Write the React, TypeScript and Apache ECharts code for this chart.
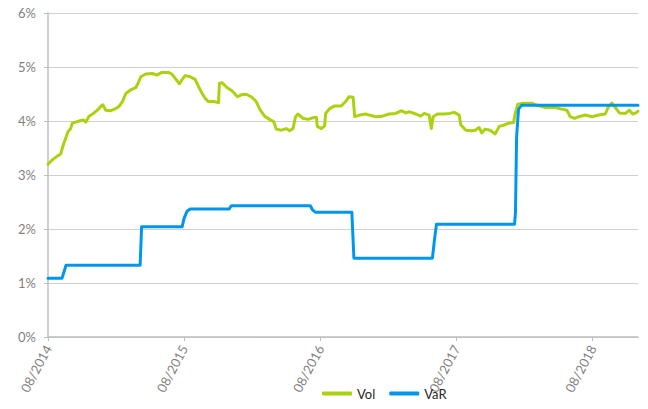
import React, { useEffect, useRef } from "react";
import * as echarts from "echarts";

// x values: months elapsed since 08/2014
const xTickLabels = ["08/2014", "08/2015", "08/2016", "08/2017", "08/2018"];

const volMonths = [
  0.0, 0.38, 0.82, 1.12, 1.35, 1.56, 1.76, 2.0, 2.14, 2.44, 2.89, 3.11, 3.33, 3.62, 4.06, 4.35, 4.65, 4.83,
  5.09, 5.53, 5.97, 6.26, 6.56, 6.86, 7.24, 7.53, 7.74, 7.94, 8.18, 8.62, 9.2, 9.59, 10.03, 10.61, 10.91,
  11.21, 11.59, 11.8, 12.09, 12.53, 12.97, 13.26, 13.56, 13.85, 14.14, 14.59, 15.03, 15.11, 15.33, 15.77,
  16.21, 16.7, 17.09, 17.53, 17.97, 18.35, 18.71, 19.09, 19.53, 19.88, 20.12, 20.56, 21.0, 21.29, 21.59,
  21.82, 22.03, 22.47, 22.92, 23.36, 23.65, 23.74, 24.09, 24.38, 24.47, 24.82, 25.26, 25.85, 26.23, 26.53,
  26.89, 27.03, 27.47, 28.0, 28.3, 28.88, 29.47, 30.06, 30.64, 31.17, 31.53, 31.88, 32.41, 32.85, 33.15,
  33.59, 33.79, 33.94, 34.32, 34.91, 35.36, 35.8, 36.24, 36.38, 36.82, 37.35, 37.65, 38.0, 38.23, 38.53,
  38.97, 39.41, 39.77, 40.15, 40.59, 41.03, 41.18, 41.41, 41.91, 42.65, 42.94, 43.83, 44.71, 45.29, 45.73,
  46.03, 46.41, 46.76, 47.36, 47.94, 48.53, 49.12, 49.41, 49.7, 50.0, 50.36, 50.89, 51.24, 51.53, 51.82, 52.0,
];
const volValues = [
  3.2, 3.28, 3.35, 3.39, 3.56, 3.68, 3.8, 3.86, 3.96, 3.98, 4.01, 4.02, 3.98, 4.09, 4.15, 4.2, 4.27, 4.3,
  4.2, 4.19, 4.23, 4.27, 4.36, 4.51, 4.57, 4.6, 4.62, 4.7, 4.82, 4.87, 4.88, 4.85, 4.9, 4.9, 4.87,
  4.79, 4.69, 4.76, 4.84, 4.82, 4.77, 4.64, 4.52, 4.42, 4.36, 4.36, 4.34, 4.7, 4.71, 4.62,
  4.56, 4.45, 4.49, 4.49, 4.44, 4.36, 4.2, 4.09, 4.03, 3.99, 3.85, 3.83, 3.86, 3.82, 3.86,
  4.08, 4.13, 4.05, 4.03, 4.06, 4.07, 3.9, 3.86, 3.91, 4.14, 4.23, 4.28, 4.28, 4.36, 4.45,
  4.44, 4.08, 4.11, 4.13, 4.11, 4.08, 4.09, 4.13, 4.14, 4.19, 4.15, 4.17, 4.13, 4.09, 4.14,
  4.11, 3.86, 4.08, 4.13, 4.13, 4.14, 4.16, 4.11, 3.93, 3.83, 3.82, 3.83, 3.88, 3.78, 3.85,
  3.83, 3.76, 3.9, 3.92, 3.96, 3.97, 4.14, 4.31, 4.33, 4.33, 4.3, 4.25, 4.25, 4.22, 4.2,
  4.08, 4.05, 4.08, 4.11, 4.08, 4.11, 4.13, 4.27, 4.33, 4.25, 4.15, 4.14, 4.2, 4.13, 4.15, 4.18,
];

const varMonths = [
  0.0, 1.24, 1.4, 1.59, 8.12, 8.25, 11.82, 12.0, 12.26, 12.53, 15.97, 16.15, 23.12, 23.3, 23.56, 26.78,
  26.96, 33.88, 34.06, 34.24, 41.12, 41.2, 41.3, 41.47, 41.74, 52.0,
];
const varValues = [
  1.09, 1.09, 1.2, 1.33, 1.33, 2.04, 2.04, 2.2, 2.33, 2.37, 2.37, 2.43, 2.43, 2.36, 2.31, 2.31,
  1.46, 1.46, 1.8, 2.09, 2.09, 2.3, 3.7, 4.22, 4.29, 4.29,
];

const GREEN = "#abd20f";
const BLUE = "#0096ef";
const FONT = "Lato, 'Liberation Sans', sans-serif";

export default function App() {
  const ref = useRef<HTMLDivElement>(null);
  useEffect(() => {
    if (!ref.current) return;
    const chart = echarts.init(ref.current, undefined, { renderer: "svg" });
    const vol = volMonths.map((m, i) => [m, volValues[i]]);
    const vr = varMonths.map((m, i) => [m, varValues[i]]);
    chart.setOption({
      animation: false,
      textStyle: { fontFamily: FONT },
      grid: { left: 48, right: 10, top: 13, bottom: 72, containLabel: false },
      legend: {
        left: 322,
        top: 387,
        padding: 0,
        itemWidth: 30,
        itemHeight: 4,
        itemGap: 14,
        icon: "roundRect",
        textStyle: { fontFamily: FONT, fontSize: 13, color: "#262626" },
        data: ["Vol", "VaR"],
      },
      xAxis: {
        type: "value",
        min: 0,
        max: 52,
        interval: 12,
        splitLine: { show: false },
        axisLine: { lineStyle: { color: "#bfbfbf", width: 1.5 } },
        axisTick: { show: true, length: 4, lineStyle: { color: "#bfbfbf" }, customValues: [0, 12, 24, 36, 48] },
        axisLabel: {
          rotate: 62,
          margin: 9,
          color: "#7f7f7f",
          fontSize: 13,
          fontFamily: FONT,
          customValues: [0, 12, 24, 36, 48],
          formatter: (v: number) => (v % 12 === 0 ? xTickLabels[v / 12] || "" : ""),
        },
      },
      yAxis: {
        type: "value",
        min: 0,
        max: 6,
        interval: 1,
        axisLine: { show: true, lineStyle: { color: "#bfbfbf", width: 1.5 } },
        axisTick: { show: true, length: 4, lineStyle: { color: "#bfbfbf" } },
        splitLine: { lineStyle: { color: "#d0d0d0", width: 1 } },
        axisLabel: { color: "#7f7f7f", fontSize: 13, margin: 12, fontFamily: FONT, formatter: "{value}%" },
      },
      series: [
        {
          name: "Vol",
          type: "line",
          data: vol,
          showSymbol: false,
          symbol: "none",
          lineStyle: { color: GREEN, width: 3, join: "round", cap: "round" },
          itemStyle: { color: GREEN },
        },
        {
          name: "VaR",
          type: "line",
          data: vr,
          showSymbol: false,
          symbol: "none",
          lineStyle: { color: BLUE, width: 3, join: "round", cap: "round" },
          itemStyle: { color: BLUE },
        },
      ],
    });
    return () => chart.dispose();
  }, []);
  return <div ref={ref} style={{ width: 648, height: 409, position: "absolute", left: 0, top: 0 }} />;
}
